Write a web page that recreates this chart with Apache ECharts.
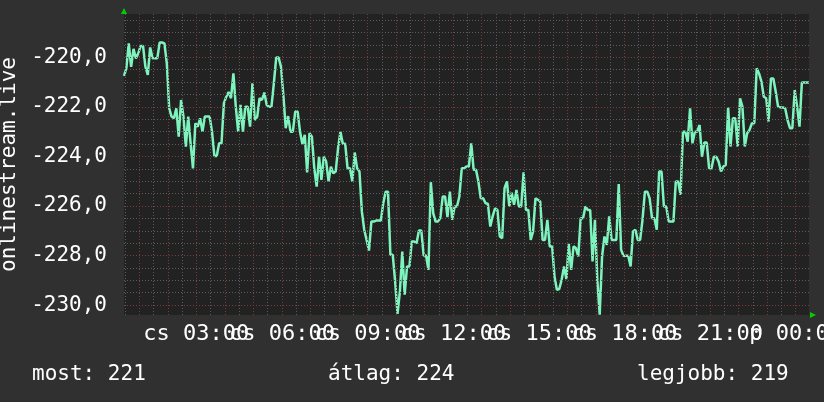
<!DOCTYPE html>
<html>
<head>
<meta charset="utf-8">
<script src="https://cdn.jsdelivr.net/npm/echarts@6/dist/echarts.min.js"></script>
<style>
  html, body { margin: 0; background: #303030; }
  #chart { width: 824px; height: 402px; }
</style>
</head>
<body>
<div id="chart"></div>
<script>
// x = minutes since Thursday 00:00, one sample every 5 minutes
const startMinute = 28
const stepMinutes = 5
const values = [
  -220.75, -220.44, -219.44, -220.38, -219.66, -220.04, -219.84, -219.54, -219.54, -220.38,
  -220.71, -219.6, -220.04, -220.04, -220.04, -219.4, -219.4, -219.44, -220.24, -222.06,
  -222.39, -222.46, -222.06, -223.2, -221.72, -222.39, -223.6, -222.39, -223.47, -224.48,
  -222.66, -222.8, -222.46, -223.0, -222.39, -222.39, -222.39, -223.0, -223.98, -223.98,
  -223.47, -223.47, -221.85, -221.59, -221.4, -221.65, -220.65, -221.99, -223.0, -221.92,
  -223.0, -221.99, -221.99, -222.8, -221.05, -222.53, -222.4, -221.65, -221.72, -221.42,
  -221.92, -221.99, -221.99, -221.05, -220.01, -220.01, -220.38, -221.52, -222.86, -222.37,
  -223.0, -223.0, -222.19, -222.19, -223.0, -223.5, -223.13, -224.64, -223.06, -223.2,
  -224.48, -225.22, -224.01, -224.95, -224.01, -224.21, -225.01, -224.41, -224.68, -224.61,
  -223.67, -223.0, -223.49, -223.49, -224.48, -224.48, -225.01, -223.84, -224.48, -224.61,
  -226.22, -226.96, -227.37, -227.8, -226.63, -226.63, -226.59, -226.59, -226.59, -225.89,
  -225.42, -225.42, -227.97, -227.97, -229.05, -230.35, -229.45, -227.84, -229.58, -228.44,
  -228.44, -227.43, -227.43, -227.5, -226.99, -226.99, -228.0, -228.0, -228.58, -225.04,
  -226.29, -226.63, -226.63, -226.49, -225.62, -225.62, -226.45, -225.42, -226.56, -226.02,
  -226.02, -225.62, -224.48, -224.48, -224.41, -224.41, -223.47, -224.54, -224.54, -225.01,
  -225.69, -225.69, -225.89, -225.91, -226.83, -226.42, -226.09, -226.16, -227.23, -227.3,
  -225.28, -225.01, -226.02, -225.46, -225.95, -225.35, -226.02, -226.02, -224.64, -226.16,
  -226.16, -227.37, -227.03, -225.69, -225.75, -225.82, -227.37, -227.37, -226.56, -227.63,
  -227.63, -228.84, -229.38, -229.35, -228.98, -228.44, -228.95, -227.53, -228.58, -227.63,
  -227.7, -228.04, -226.49, -226.49, -226.02, -226.16, -226.16, -228.24, -226.56, -228.98,
  -230.39, -228.04, -227.23, -227.57, -226.42, -227.37, -227.37, -227.37, -225.11, -227.77,
  -228.01, -228.01, -228.01, -228.44, -227.03, -226.96, -227.37, -227.37, -226.56, -225.42,
  -225.42, -225.69, -226.49, -226.49, -226.96, -224.61, -224.61, -226.02, -226.02, -226.63,
  -226.63, -226.63, -225.01, -225.01, -225.55, -223.0, -223.0, -223.4, -222.06, -223.47,
  -223.0, -223.0, -222.73, -224.01, -223.44, -223.44, -224.48, -224.48, -224.01, -224.01,
  -224.21, -224.61, -224.41, -224.34, -222.03, -223.6, -222.46, -222.46, -223.6, -221.65,
  -221.99, -223.6, -223.06, -222.93, -222.66, -222.66, -220.44, -220.65, -220.98, -221.59,
  -221.65, -222.59, -220.85, -220.85, -221.38, -221.99, -222.02, -222.02, -222.06, -222.53,
  -222.86, -222.86, -221.32, -221.99, -222.8, -221.02, -221.02, -221.02, -221.02
]
const yTicks = [-230, -228, -226, -224, -222, -220]
const xTickMinutes = [180, 360, 540, 720, 900, 1080, 1260, 1440]
const xTickLabels = ['cs 03:00', 'cs 06:00', 'cs 09:00', 'cs 12:00', 'cs 15:00', 'cs 18:00', 'cs 21:00', 'p 00:00']
const summary = ['most: 221', 'átlag: 224', 'legjobb: 219']

const font = 'DejaVu Sans Mono'
const minorColor = '#5c5c5c'
const majorColor = '#7a3c3c'
const xMin = startMinute
const xMax = startMinute + 24 * 60

const seriesData = values.map((v, i) => [startMinute + i * stepMinutes, v])

// dotted grid: every 0.5 unit / 30 minutes, red on the major steps
const gridLines = []
for (let v = -230; v <= -218.5; v += 0.5) {
  gridLines.push({ yAxis: v, lineStyle: { color: v % 2 === 0 ? majorColor : minorColor } })
}
for (let m = 30; m < xMax; m += 30) {
  gridLines.push({ xAxis: m, lineStyle: { color: m % 60 === 0 ? majorColor : minorColor } })
}

// the labels overlap like in the original, so split them over two axes
// (echarts drops overlapping labels inside one axis)
const timeAxis = (ticks) => ({
  type: 'value',
  min: xMin,
  max: xMax,
  position: 'bottom',
  axisLine: { show: false },
  axisTick: { show: false },
  splitLine: { show: false },
  axisLabel: {
    customValues: ticks,
    formatter: v => xTickLabels[xTickMinutes.indexOf(v)] || '',
    showMinLabel: true,
    showMaxLabel: true,
    hideOverlap: false,
    color: '#ffffff',
    fontFamily: font,
    fontSize: 22,
    margin: 8
  }
})

const summaryText = (text, left) => ({
  type: 'text', left: left, top: 364,
  style: { text: text, fill: '#ffffff', font: '21px "DejaVu Sans Mono"' }
})

const chart = echarts.init(document.getElementById('chart'))
chart.setOption({
  backgroundColor: '#303030',
  animation: false,
  textStyle: { fontFamily: font },
  grid: {
    left: 124, top: 14, width: 685, height: 301,
    show: true, backgroundColor: '#222222', borderWidth: 0,
    containLabel: false, outerBoundsMode: 'none'
  },
  xAxis: [
    timeAxis(xTickMinutes.filter((m, i) => i % 2 === 0)),
    timeAxis(xTickMinutes.filter((m, i) => i % 2 === 1))
  ],
  yAxis: {
    type: 'value',
    min: -230.4,
    max: -218.25,
    name: 'onlinestream.live',
    nameLocation: 'middle',
    nameRotate: 90,
    nameGap: 102,
    nameTextStyle: { color: '#ffffff', fontFamily: font, fontSize: 21 },
    axisLine: { show: false },
    axisTick: { show: false },
    splitLine: { show: false },
    axisLabel: {
      customValues: yTicks,
      formatter: v => v.toFixed(1).replace('.', ','),
      color: '#ffffff',
      fontFamily: font,
      fontSize: 21,
      margin: 17
    }
  },
  series: [
    {
      type: 'line',
      data: seriesData,
      showSymbol: false,
      silent: true,
      z: 1,
      lineStyle: { opacity: 0 },
      markLine: {
        silent: true,
        symbol: 'none',
        label: { show: false },
        lineStyle: { type: [1, 2], width: 1 },
        data: gridLines
      }
    },
    {
      type: 'line',
      data: seriesData,
      showSymbol: false,
      z: 3,
      lineStyle: { color: '#7df3bd', width: 2.5 }
    }
  ],
  graphic: [
    { type: 'polygon', shape: { points: [[121, 14], [127, 14], [124, 8]] }, style: { fill: '#00d000' } },
    { type: 'polygon', shape: { points: [[810, 312], [810, 318], [816, 315]] }, style: { fill: '#00d000' } },
    summaryText(summary[0], 32),
    summaryText(summary[1], 328),
    summaryText(summary[2], 637)
  ]
})
</script>
</body>
</html>
